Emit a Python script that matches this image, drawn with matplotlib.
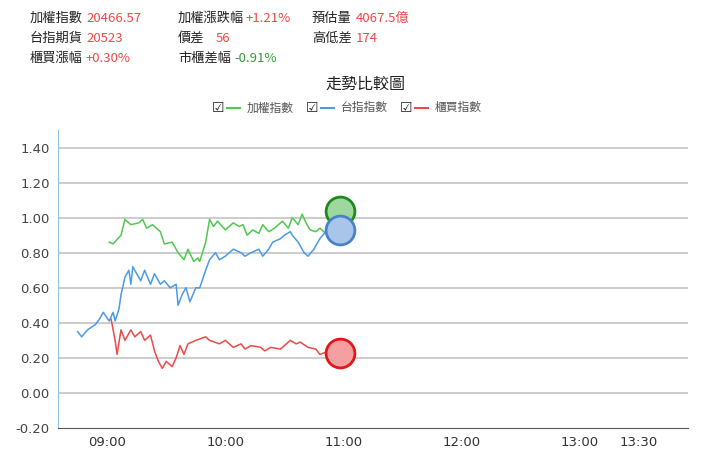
import matplotlib
matplotlib.use("Agg")
import matplotlib.pyplot as plt

plt.rcParams['font.family'] = ['Noto Sans CJK TC', 'DejaVu Sans']

# minutes since 09:00
g_t = [1,3,7,9,12,16,18,20,23,27,29,33,36,39,41,44,46,47,50,52,54,56,60,64,67,69,71,74,77,79,82,85,89,92,94,97,99,101,103,106,108,111,113,118]
g_v = [.86,.85,.90,.99,.96,.97,.99,.94,.96,.92,.85,.86,.80,.76,.82,.75,.77,.75,.86,.99,.95,.98,.93,.97,.95,.96,.90,.93,.91,.96,.92,.94,.98,.94,1.00,.96,1.02,.97,.93,.92,.94,.91,.93,1.03]
b_t = [-15,-13,-10,-6,-4,-2,1,3,4,6,7,9,11,12,13,15,17,19,22,24,27,29,32,35,36,38,40,42,45,47,50,52,55,57,60,64,68,70,73,77,79,82,84,88,90,93,94,97,100,102,105,108,111,117]
b_v = [.35,.32,.36,.39,.42,.46,.41,.46,.41,.48,.56,.66,.70,.62,.72,.68,.64,.70,.62,.68,.62,.64,.60,.62,.50,.56,.60,.52,.60,.60,.70,.76,.80,.76,.78,.82,.80,.78,.80,.82,.78,.82,.86,.88,.90,.92,.90,.86,.80,.78,.82,.88,.92,.93]
r_t = [2,4,5,7,9,12,14,17,19,22,24,26,28,30,33,35,37,39,41,45,50,52,57,60,64,68,70,73,78,80,83,88,93,96,98,102,106,108,113,117]
r_v = [.42,.30,.22,.36,.30,.36,.32,.35,.30,.33,.24,.18,.14,.18,.15,.20,.27,.22,.28,.30,.32,.30,.28,.30,.26,.28,.25,.27,.26,.24,.26,.25,.30,.28,.29,.26,.25,.22,.24,.23]
end_t = 118
end_v = [1.04, 0.93, 0.23]

xticks = [0, 60, 120, 240, 270]
xlabels = ['09:00', '10:00', '11:00', '13:00', '13:30']
xticks_all = [0, 60, 120, 180, 240, 270]
xlabels_all = ['09:00', '10:00', '11:00', '12:00', '13:00', '13:30']
yticks = [-0.2, 0, 0.2, 0.4, 0.6, 0.8, 1.0, 1.2, 1.4]

green, blue, red = '#4ec94e', '#4a9be8', '#f04848'

fig = plt.figure(figsize=(7.2, 4.7), dpi=100)
ax = fig.add_axes([58/720, 42/470, 630/720, 298/470])
ax.set_xlim(-25, 295)
ax.set_ylim(-0.2, 1.5)
for y in yticks[1:]:
    ax.axhline(y, color='#c8c8c8', lw=1.3, zorder=0)
ax.plot(g_t, g_v, color=green, lw=1.1)
ax.plot(b_t, b_v, color=blue, lw=1.1)
ax.plot(r_t, r_v, color=red, lw=1.1)
for v, fc, ec in zip(end_v, ['#9fd89f', '#a9c6ea', '#f4a0a0'], ['#1e8a1e', '#4a82c8', '#e01818']):
    ax.scatter([end_t], [v], s=430, facecolor=fc, edgecolor=ec, linewidth=2, zorder=5)
ax.set_yticks(yticks)
ax.set_yticklabels([f'{y:.2f}' for y in yticks], color='#444', fontsize=9.5, family='DejaVu Sans')
ax.set_xticks(xticks_all)
ax.set_xticklabels(xlabels_all, color='#333', fontsize=9.5, family='DejaVu Sans')
ax.tick_params(length=0, pad=6)
for s in ['top', 'right']:
    ax.spines[s].set_visible(False)
ax.spines['left'].set_color('#8cc4f0')
ax.spines['bottom'].set_color('#555')

fs = 9.5
rows = [
    [('加權指數', '20466.57', red, 30), ('加權漲跌幅', '+1.21%', red, 178), ('預估量', '4067.5億', red, 312)],
    [('台指期貨', '20523', red, 30), ('價差', '56', red, 178), ('高低差', '174', red, 312)],
    [('櫃買漲幅', '+0.30%', red, 30), ('市櫃差幅', '-0.91%', '#3a9a3a', 178)],
]
labw = {'加權指數': 56, '台指期貨': 56, '櫃買漲幅': 56, '加權漲跌幅': 68, '價差': 38, '市櫃差幅': 56, '預估量': 44, '高低差': 44}
for i, row in enumerate(rows):
    y = 1 - (18 + i * 20) / 470
    for lab, val, c, x in row:
        fig.text(x/720, y, lab, fontsize=fs, color='#222', va='center')
        fig.text((x + labw[lab])/720, y, val, fontsize=fs, color=c, va='center')
fig.text(365/720, 1 - 84/470, '走勢比較圖', fontsize=11.5, color='#222', ha='center', va='center')
ly = 1 - 108/470
for x, lab, c in [(212, '加權指數', green), (306, '台指指數', blue), (400, '櫃買指數', red)]:
    fig.text(x/720, ly, '☑', fontsize=10, color='#222', va='center', family=['DejaVu Sans'])
    fig.lines.append(plt.Line2D([(x+15)/720, (x+28)/720], [ly, ly], color=c, lw=1.5, transform=fig.transFigure))
    fig.text((x+35)/720, ly, lab, fontsize=8.5, color='#555', va='center')

fig.savefig('out.png', dpi=100)
